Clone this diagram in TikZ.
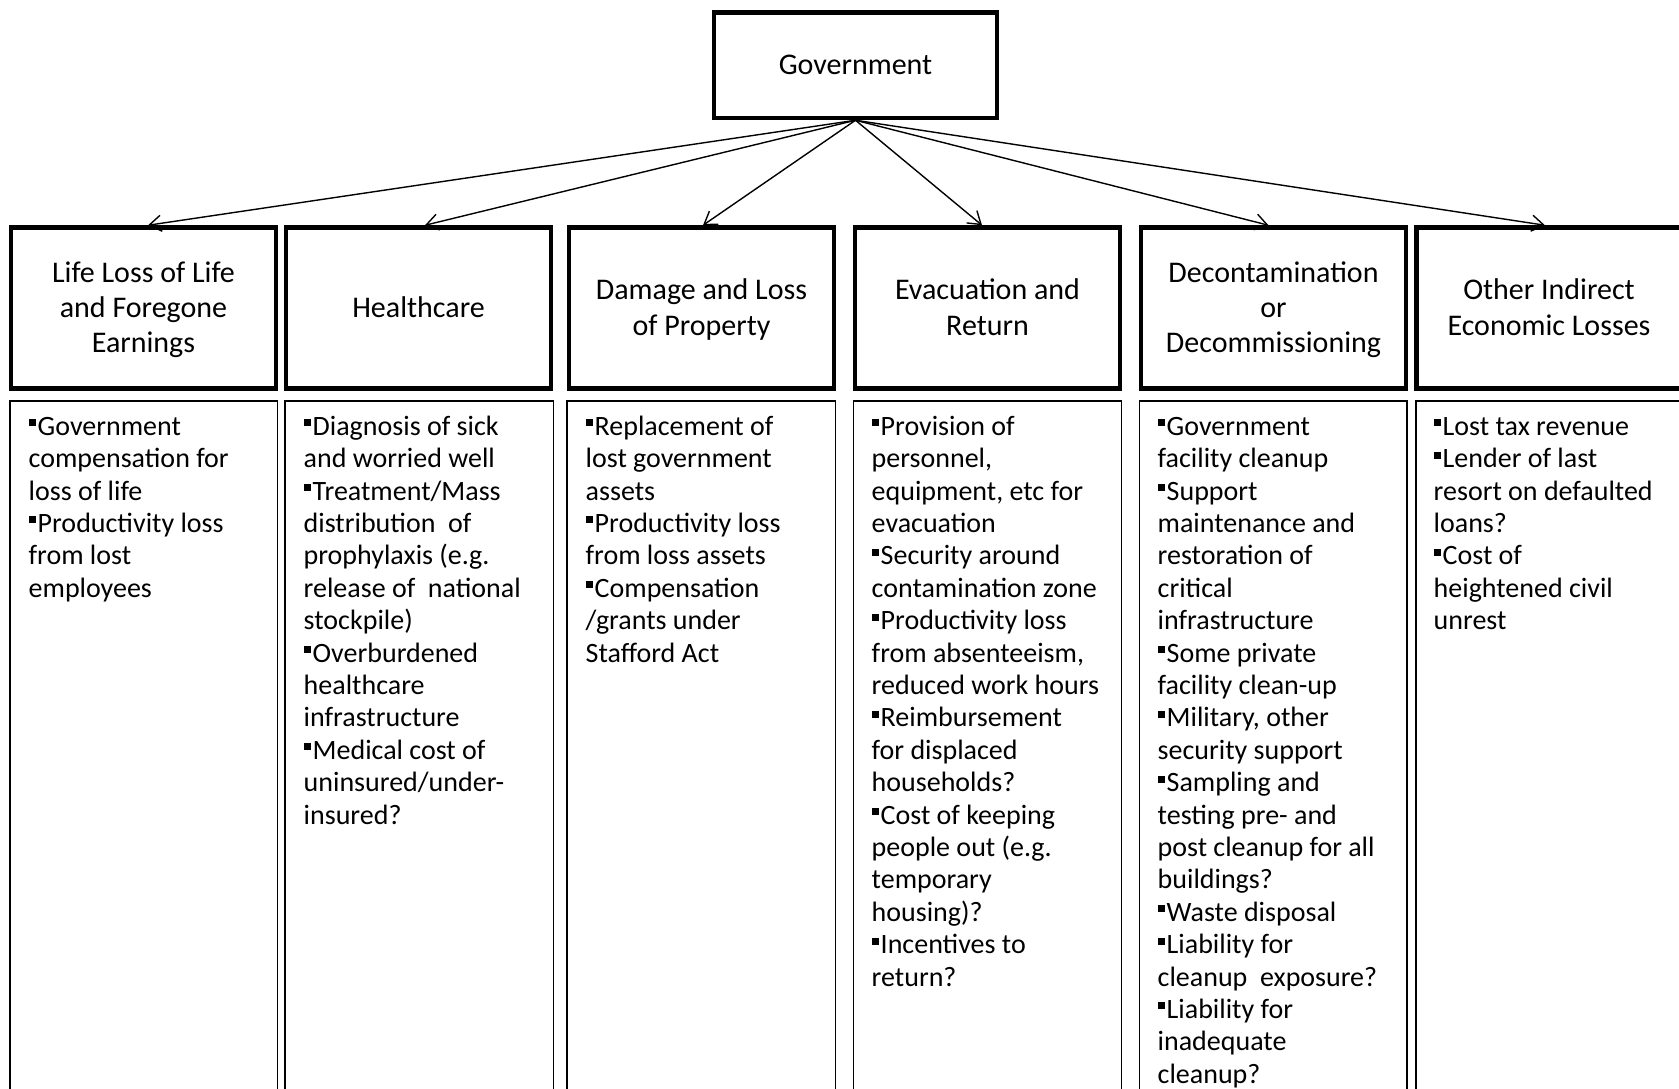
\documentclass[tikz,border=0pt]{standalone}
\usepackage{fontspec}
\setmainfont{Carlito}
\usetikzlibrary{arrows.meta}
\newcommand{\bsq}{\raisebox{9pt}{\rule{7.5pt}{7pt}}\hspace{1.5pt}}
\newcommand{\fl}{\rule{0pt}{22pt}}
\newcommand{\hT}{\rule{0pt}{25pt}}
\newcommand{\hB}{\rule[-6pt]{0pt}{6pt}}
\begin{document}
\begin{tikzpicture}[x=1pt,y=-1pt,
  headbox/.style={draw, line width=4.5pt, minimum width=265pt, minimum height=161pt,
    inner sep=0pt, align=center, font=\fontsize{30}{35.3}\selectfont},
  listbox/.style={draw, line width=1.5pt, minimum height=699pt, inner sep=0pt},
  body/.style={anchor=north west, inner sep=0pt, align=left,
    font=\fontsize{28}{32.4}\selectfont},
  arr/.style={line width=1.4pt, -{Straight Barb[length=12pt,width=16pt]}}]
\useasboundingbox (0,0) rectangle (1679,1088);
\fill[white] (0,0) rectangle (1679,1088);
\clip (0,0) rectangle (1679,1088);

% top node
\node[draw, line width=4.5pt, minimum width=283pt, minimum height=105.5pt, inner sep=0pt,
  font=\fontsize{30}{35.3}\selectfont] (gov) at (855.5,65.25) {\hT Government\hB};

% category boxes
\node[headbox] (h1) at (143.5,308) {\hT Life Loss of Life\\and Foregone\\Earnings\hB};
\node[headbox] (h2) at (418.5,308) {\hT Healthcare\hB};
\node[headbox] (h3) at (701.5,308) {\hT Damage and Loss\\of Property\hB};
\node[headbox] (h4) at (987.5,308) {\hT Evacuation and\\Return\hB};
\node[headbox] (h5) at (1273.5,308) {\hT Decontamination\\or\\Decommissioning\hB};
\node[headbox] (h6) at (1549,308) {\hT Other Indirect\\Economic Losses\hB};

% arrows
\draw[arr] (gov.south) -- ([xshift=4.5pt]h1.north);
\draw[arr] (gov.south) -- ([xshift=6.5pt]h2.north);
\draw[arr] (gov.south) -- ([xshift=1.5pt]h3.north);
\draw[arr] (gov.south) -- ([xshift=-5.5pt]h4.north);
\draw[arr] (gov.south) -- ([xshift=-5pt]h5.north);
\draw[arr] (gov.south) -- ([xshift=-4pt]h6.north);

% list boxes
\node[listbox, minimum width=267.5pt] (l1) at (143.75,750.5) {};
\node[listbox, minimum width=268.5pt] (l2) at (419.25,750.5) {};
\node[listbox, minimum width=268.5pt] (l3) at (701.25,750.5) {};
\node[listbox, minimum width=268pt] (l4) at (987.5,750.5) {};
\node[listbox, minimum width=267.5pt] (l5) at (1273.25,750.5) {};
\node[listbox, minimum width=266pt] (l6) at (1549,750.5) {};

% list texts
\node[body] (t1) at (28.5,413) {\fl\bsq Government\\compensation for\\loss of life\\\bsq Productivity loss\\from lost\\employees};
\node[body] (t2) at (303.5,413) {\fl\bsq Diagnosis of sick\\and worried well\\\bsq Treatment/Mass\\distribution \ of\\prophylaxis (e.g.\\release of \ national\\stockpile)\\\bsq Overburdened\\healthcare\\infrastructure\\\bsq Medical cost of\\uninsured/under-\\insured?};
\node[body] (t3) at (585.5,413) {\fl\bsq Replacement of\\lost government\\assets\\\bsq Productivity loss\\from loss assets\\\bsq Compensation\\/grants under\\Stafford Act};
\node[body] (t4) at (871.5,413) {\fl\bsq Provision of\\personnel,\\equipment, etc for\\evacuation\\\bsq Security around\\contamination zone\\\bsq Productivity loss\\from absenteeism,\\reduced work hours\\\bsq Reimbursement\\for displaced\\households?\\\bsq Cost of keeping\\people out (e.g.\\temporary\\housing)?\\\bsq Incentives to\\return?};
\node[body] (t5) at (1157.5,413) {\fl\bsq Government\\facility cleanup\\\bsq Support\\maintenance and\\restoration of\\critical\\infrastructure\\\bsq Some private\\facility clean-up\\\bsq Military, other\\security support\\\bsq Sampling and\\testing pre- and\\post cleanup for all\\buildings?\\\bsq Waste disposal\\\bsq Liability for\\cleanup \ exposure?\\\bsq Liability for\\inadequate\\cleanup?};
\node[body] (t6) at (1433.5,413) {\fl\bsq Lost tax revenue\\\bsq Lender of last\\resort on defaulted\\loans?\\\bsq Cost of\\heightened civil\\unrest};
\end{tikzpicture}
\end{document}
